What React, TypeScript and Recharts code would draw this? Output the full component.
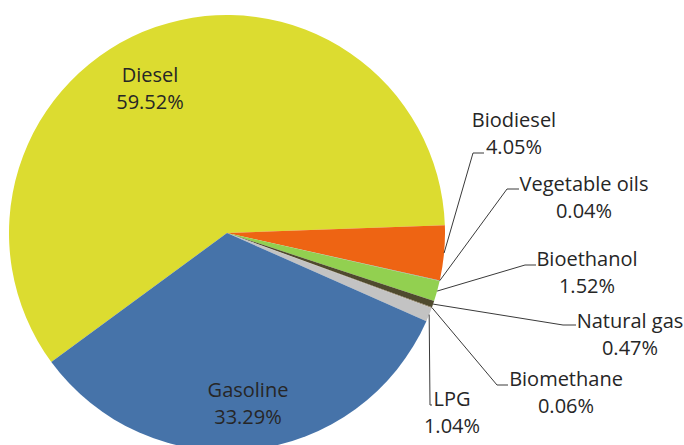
import React from "react";
import { PieChart, Pie, Cell } from "recharts";

const fuels = [
  "Diesel",
  "Biodiesel",
  "Vegetable oils",
  "Bioethanol",
  "Natural gas",
  "Biomethane",
  "LPG",
  "Gasoline",
];
const shares = [59.52, 4.05, 0.04, 1.52, 0.47, 0.06, 1.04, 33.29];
const colors = [
  "#DCDC30",
  "#EE6413",
  "#8C8C8C",
  "#92D050",
  "#4F4A2E",
  "#7F6F50",
  "#C3C3C3",
  "#4673A9",
];

// label placement: text centre, optional leader elbow and end of the short tail
const labelLayout: { x: number; y: number; elbow?: [number, number]; tail?: number }[] = [
  { x: 150, y: 74 },
  { x: 514, y: 119, elbow: [473, 153], tail: 484 },
  { x: 584, y: 183, elbow: [507, 189], tail: 519 },
  { x: 587, y: 258, elbow: [525, 265], tail: 536 },
  { x: 630, y: 320, elbow: [563, 325], tail: 576 },
  { x: 566, y: 378, elbow: [497, 385], tail: 508 },
  { x: 452, y: 398, elbow: [430, 405], tail: 432 },
  { x: 248, y: 389 },
];

const data = fuels.map((name, i) => ({ name, value: shares[i] }));

const RADIAN = Math.PI / 180;
const START = 216.3;

const renderLabel = (props: any) => {
  const { cx, cy, midAngle, outerRadius, index } = props;
  const l = labelLayout[index];
  let leader = null;
  if (l.elbow) {
    const sx = cx + outerRadius * Math.cos(-midAngle * RADIAN);
    const sy = cy + outerRadius * Math.sin(-midAngle * RADIAN);
    const [ex, ey] = l.elbow;
    leader = (
      <polyline
        points={`${sx},${sy} ${ex},${ey} ${l.tail},${ey}`}
        fill="none"
        stroke="#3a3a3a"
        strokeWidth={1}
      />
    );
  }
  return (
    <g key={`lbl-${index}`}>
      {leader}
      <text
        x={l.x}
        y={l.y}
        textAnchor="middle"
        dominantBaseline="central"
        fill="#262626"
        fontSize={20}
        fontFamily="'Open Sans', sans-serif"
      >
        {fuels[index]}
      </text>
      <text
        x={l.x}
        y={l.y + 27}
        textAnchor="middle"
        dominantBaseline="central"
        fill="#262626"
        fontSize={20}
        fontFamily="'Open Sans', sans-serif"
      >
        {shares[index].toFixed(2)}%
      </text>
    </g>
  );
};

export default function App() {
  return (
    <div style={{ position: "absolute", left: 0, top: 0, width: 684, height: 445, background: "#fff", overflow: "hidden" }}>
      <PieChart width={684} height={445} margin={{ top: 0, right: 0, bottom: 0, left: 0 }}>
        <Pie
          data={data}
          dataKey="value"
          nameKey="name"
          cx={227}
          cy={233}
          outerRadius={218}
          startAngle={START}
          endAngle={START - 360}
          stroke="none"
          label={renderLabel}
          labelLine={false}
          isAnimationActive={false}
        >
          {data.map((d, i) => (
            <Cell key={d.name} fill={colors[i]} />
          ))}
        </Pie>
      </PieChart>
    </div>
  );
}
